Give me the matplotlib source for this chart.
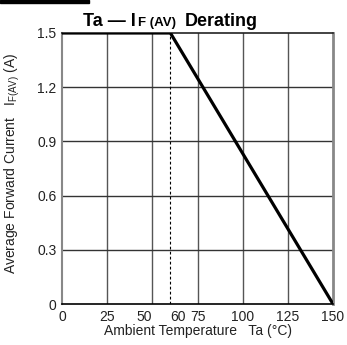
import matplotlib
matplotlib.use('Agg')
import matplotlib.pyplot as plt
from matplotlib.patches import Rectangle

plt.rcParams['font.family'] = ['Liberation Sans', 'DejaVu Sans']

# derating curve: Ta (degC) vs IF(AV) (A)
temp = [0, 60, 150]
current = [1.5, 1.5, 0]
knee_t = 60
xticks = [0, 25, 50, 60, 75, 100, 125, 150]
xgrid = [25, 50, 75, 100, 125]
yticks = [0, 0.3, 0.6, 0.9, 1.2, 1.5]

fig = plt.figure(figsize=(3.47, 3.45), dpi=100)
ax = fig.add_axes([62/347, 41/345, 271/347, 271/345])

for x in xgrid:
    ax.axvline(x, color='#555555', lw=1, zorder=1)
for y in yticks[1:-1]:
    ax.axhline(y, color='#333333', lw=1, zorder=1)
ax.plot([knee_t, knee_t], [0, 1.5], color='black', lw=0.8, ls=(0, (2.5, 2)), zorder=2)
ax.plot(temp, current, color='black', lw=2.3, solid_capstyle='butt', zorder=3)

ax.set_xlim(0, 150)
ax.set_ylim(0, 1.5)
ax.set_xticks(xticks)
ax.set_xticklabels(['0', '25', '50', '60', '75', '100', '125', '150'])
ax.set_yticks(yticks)
ax.set_yticklabels(['0', '0.3', '0.6', '0.9', '1.2', '1.5'])
ax.tick_params(length=0, labelsize=10, colors='#222222', pad=4)
for lab in ax.get_xticklabels():
    if lab.get_text() == '50':
        lab.set_ha('right')
    if lab.get_text() == '60':
        lab.set_ha('left')

ax.spines['left'].set_color('#888888')
ax.spines['left'].set_linewidth(1.5)
ax.spines['right'].set_color('#888888')
ax.spines['right'].set_linewidth(2)
ax.spines['bottom'].set_color('black')
ax.spines['bottom'].set_linewidth(1.2)
ax.spines['top'].set_color('#222222')
ax.spines['top'].set_linewidth(1.2)

ax.set_xlabel('Ambient Temperature   Ta (°C)', fontsize=10, labelpad=0, color='#222222')

# y label with subscript
fig.text(12/347, 1 - 163/345, 'Average Forward Current   I$_{\\mathregular{F(AV)}}$ (A)',
         rotation=90, ha='center', va='center', fontsize=10, color='#222222')

# title pieces
base = 1 - 26/345
fig.text(136/347, base, 'Ta — I', ha='right', va='baseline', fontsize=13, fontweight='bold')
fig.text(138/347, base, 'F (AV)', ha='left', va='baseline', fontsize=9.5, fontweight='bold')
fig.text(185/347, base, 'Derating', ha='left', va='baseline', fontsize=13, fontweight='bold')

fig.patches.append(Rectangle((0, 1 - 3/345), 89/347, 3/345, transform=fig.transFigure,
                             color='black', figure=fig))

fig.savefig('out.png', dpi=100)
